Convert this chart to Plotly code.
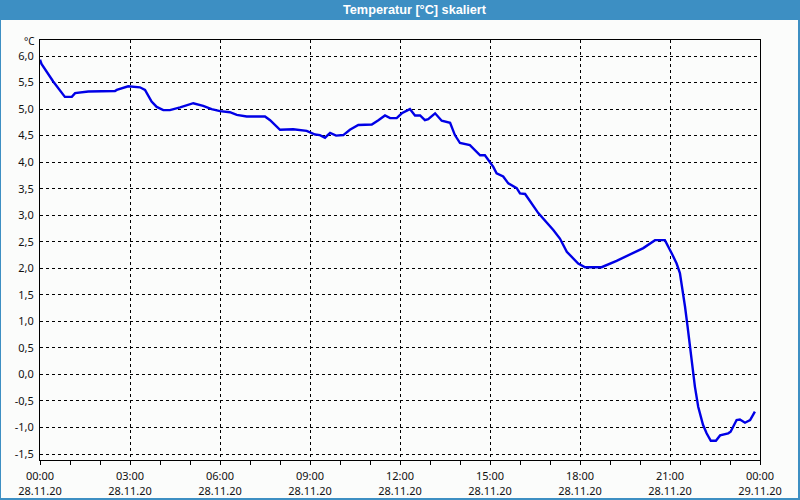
import plotly.graph_objects as go

# Data: hours since 28.11.20 00:00 and temperature [°C]
hours = [0.0, 0.05, 0.44, 0.83, 1.06, 1.17, 1.61, 2.5, 2.56, 2.94, 3.33, 3.5, 3.72, 3.89, 4.11, 4.33,
         4.67, 5.11, 5.44, 5.72, 6.0, 6.33, 6.56, 6.89, 7.5, 7.67, 8.0, 8.44, 8.89, 9.17, 9.33,
         9.5, 9.67, 9.87, 10.11, 10.33, 10.61, 11.06, 11.28, 11.5, 11.67, 11.89, 12.06, 12.33,
         12.5, 12.67, 12.83, 12.94, 13.17, 13.39, 13.67, 13.83, 14.0, 14.33, 14.67, 14.83,
         15.11, 15.22, 15.44, 15.61, 15.89, 16.0, 16.17, 16.61, 17.11, 17.33, 17.56, 17.94,
         18.17, 18.72, 19.22, 19.72, 20.11, 20.5, 20.83, 21.06, 21.22, 21.33, 21.42, 21.5,
         21.58, 21.67, 21.76, 21.83, 21.94, 22.1, 22.22, 22.36, 22.53, 22.67, 22.94, 23.02,
         23.22, 23.33, 23.5, 23.67, 23.83]
temps = [5.93, 5.85, 5.52, 5.23, 5.23, 5.30, 5.33, 5.34, 5.36, 5.43, 5.41, 5.36, 5.14, 5.04, 4.98, 4.98,
         5.03, 5.11, 5.06, 5.00, 4.96, 4.94, 4.89, 4.86, 4.86, 4.79, 4.61, 4.62, 4.59, 4.52, 4.51,
         4.46, 4.55, 4.50, 4.51, 4.61, 4.70, 4.71, 4.79, 4.88, 4.83, 4.83, 4.92, 5.00,
         4.88, 4.88, 4.79, 4.81, 4.92, 4.78, 4.74, 4.51, 4.36, 4.32, 4.13, 4.13,
         3.91, 3.79, 3.73, 3.60, 3.51, 3.41, 3.40, 3.04, 2.72, 2.56, 2.31, 2.09,
         2.02, 2.02, 2.14, 2.28, 2.38, 2.53, 2.53, 2.28, 2.09, 1.91, 1.59, 1.28,
         0.93, 0.52, 0.08, -0.23, -0.61, -0.95, -1.11, -1.25, -1.25, -1.15, -1.11, -1.08,
         -0.86, -0.85, -0.91, -0.86, -0.70]

y_ticks = [6.0, 5.5, 5.0, 4.5, 4.0, 3.5, 3.0, 2.5, 2.0, 1.5, 1.0, 0.5, 0.0, -0.5, -1.0, -1.5]
y_labels = ["6,0", "5,5", "5,0", "4,5", "4,0", "3,5", "3,0", "2,5", "2,0", "1,5", "1,0", "0,5",
            "0,0", "-0,5", "-1,0", "-1,5"]
x_ticks = [0, 3, 6, 9, 12, 15, 18, 21, 24]
x_labels = ["00:00<br>28.11.20", "03:00<br>28.11.20", "06:00<br>28.11.20", "09:00<br>28.11.20",
            "12:00<br>28.11.20", "15:00<br>28.11.20", "18:00<br>28.11.20", "21:00<br>28.11.20",
            "00:00<br>29.11.20"]
title = "Temperatur [°C] skaliert"

W, H = 800, 500
L, R, T, B = 40, 40, 40, 40
pw, ph = W - L - R, H - T - B

def px(x):
    return (x - L) / pw

def py(y):
    return (H - B - y) / ph

blue = "#3d8fc3"

fig = go.Figure()
fig.add_trace(go.Scatter(x=hours, y=temps, mode="lines",
                         line=dict(color="#0000e6", width=2.4), hoverinfo="skip"))

font = dict(family="Noto Sans, Liberation Sans, sans-serif", size=11, color="#111111")

fig.update_layout(
    width=W, height=H,
    margin=dict(l=L, r=R, t=T, b=B, autoexpand=False),
    paper_bgcolor="#fbfcfb", plot_bgcolor="#fbfcfb",
    showlegend=False,
    font=font,
    xaxis=dict(range=[0, 24], tickmode="array", tickvals=x_ticks, ticktext=x_labels,
               showgrid=True, gridcolor="black", gridwidth=1, griddash="3px,3px",
               showline=True, linecolor="black", linewidth=1, mirror=True,
               ticks="outside", ticklen=4, tickcolor="black", tickwidth=1,
               minor=dict(dtick=1, ticks="outside", ticklen=4, tickcolor="black", showgrid=False),
               zeroline=False, tickfont=font, ticklabelstandoff=2, automargin=False),
    yaxis=dict(range=[-1.613, 6.3015], tickmode="array", tickvals=y_ticks, ticktext=y_labels,
               showgrid=True, gridcolor="black", gridwidth=1, griddash="3px,3px",
               showline=True, linecolor="black", linewidth=1, mirror=True,
               ticks="", zeroline=False, tickfont=font, ticklabelstandoff=3, automargin=False),
    shapes=[
        dict(type="rect", xref="paper", yref="paper", x0=px(0), x1=px(W), y0=py(0), y1=py(20),
             fillcolor=blue, line=dict(width=0), layer="above"),
        dict(type="rect", xref="paper", yref="paper", x0=px(0), x1=px(1), y0=py(0), y1=py(H),
             fillcolor=blue, line=dict(width=0), layer="above"),
        dict(type="rect", xref="paper", yref="paper", x0=px(W - 2), x1=px(W), y0=py(0), y1=py(H),
             fillcolor=blue, line=dict(width=0), layer="above"),
        dict(type="rect", xref="paper", yref="paper", x0=px(0), x1=px(W), y0=py(H - 2), y1=py(H),
             fillcolor=blue, line=dict(width=0), layer="above"),
    ],
    annotations=[
        dict(text="<b>" + title + "</b>", xref="paper", yref="paper", x=px(415), y=py(10),
             xanchor="center", yanchor="middle", showarrow=False,
             font=dict(family="Liberation Sans, Arial, sans-serif", size=12.7, color="white")),
        dict(text="°C", xref="paper", yref="paper", x=px(37), y=py(41),
             xanchor="right", yanchor="middle", showarrow=False,
             font=dict(family="Noto Sans, Liberation Sans, sans-serif", size=10, color="#111111")),
    ],
)

fig.write_html("out.html")
